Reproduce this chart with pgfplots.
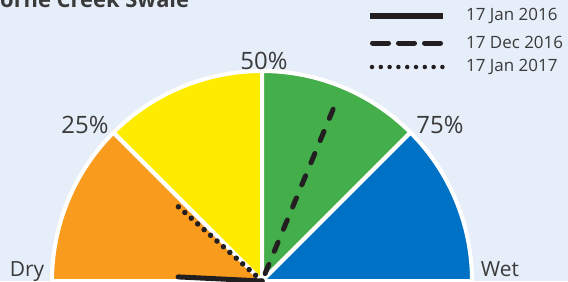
\documentclass[border=0pt]{standalone}
\usepackage{pgfplots}
\pgfplotsset{compat=1.18}
\usepackage{fontspec}
\setmainfont{Open Sans}
\definecolor{bgc}{HTML}{E6EEF9}
\definecolor{dryc}{HTML}{F99B1C}
\definecolor{yelc}{HTML}{FDEB00}
\definecolor{grnc}{HTML}{43AE4A}
\definecolor{bluc}{HTML}{0072C6}
\definecolor{ndl}{HTML}{231F20}
\definecolor{txt}{HTML}{3A3A3A}
\begin{document}
\begin{tikzpicture}
\begin{axis}[x=1bp, y=1bp, xmin=-262, xmax=306, ymin=0, ymax=281,
  hide axis, clip=false]
\coordinate (ll) at (axis cs:-262,0);
\coordinate (ur) at (axis cs:306,281);
\fill[bgc] (axis cs:-262,0) rectangle (axis cs:306,281);
% wedges 0-25-50-75-100 %
\filldraw[fill=dryc, draw=white, line width=4bp, line join=round] (axis cs:0,0) -- (axis cs:-210,0) arc[start angle=180, end angle=135, radius=210] -- cycle;
\filldraw[fill=yelc, draw=white, line width=4bp, line join=round] (axis cs:0,0) -- (axis cs:-148.49,148.49) arc[start angle=135, end angle=90, radius=210] -- cycle;
\filldraw[fill=grnc, draw=white, line width=4bp, line join=round] (axis cs:0,0) -- (axis cs:0,210) arc[start angle=90, end angle=45, radius=210] -- cycle;
\filldraw[fill=bluc, draw=white, line width=4bp, line join=round] (axis cs:0,0) -- (axis cs:148.49,148.49) arc[start angle=45, end angle=0, radius=210] -- cycle;
% needles (angle in degrees, length)
\addplot[ndl, line width=5bp, line cap=round, data cs=polar] coordinates {(0,0) (177.2,84)};
\addplot[ndl, line width=5.5bp, line cap=round, dash pattern=on 0bp off 8.6bp, data cs=polar] coordinates {(0,0) (138.4,118)};
\addplot[ndl, line width=5bp, line cap=round, dash pattern=on 10bp off 14bp, dash phase=16bp, data cs=polar] coordinates {(0,0) (67.5,188)};
% labels
\node[txt, font=\fontsize{24}{26}\selectfont] at (axis cs:2,220) {50\%};
\node[txt, font=\fontsize{24}{26}\selectfont] at (axis cs:-177,156) {25\%};
\node[txt, font=\fontsize{24}{26}\selectfont] at (axis cs:178,156) {75\%};
\node[txt, font=\fontsize{21}{23}\selectfont, anchor=base] at (axis cs:-235,5) {Dry};
\node[txt, font=\fontsize{21}{23}\selectfont, anchor=base] at (axis cs:238,5) {Wet};
% title
\node[txt, font=\fontsize{22}{24}\selectfont\bfseries, anchor=base west, inner sep=0pt] at (axis cs:-262,274) {orne Creek Swale};
% legend
\draw[ndl, line width=5bp] (axis cs:108,265) -- (axis cs:181,265);
\draw[ndl, line width=5bp, line cap=round, dash pattern=on 16bp off 10bp] (axis cs:110.5,238) -- (axis cs:181,238);
\draw[ndl, line width=4.5bp, line cap=round, dash pattern=on 0bp off 8.8bp] (axis cs:110,214) -- (axis cs:181,214);
\node[txt, font=\fontsize{17}{19}\selectfont, anchor=west, inner sep=0pt] at (axis cs:204,265) {17 Jan 2016};
\node[txt, font=\fontsize{17}{19}\selectfont, anchor=west, inner sep=0pt] at (axis cs:204,239) {17 Dec 2016};
\node[txt, font=\fontsize{17}{19}\selectfont, anchor=west, inner sep=0pt] at (axis cs:204,214) {17 Jan 2017};
\end{axis}
\pgfresetboundingbox
\useasboundingbox (ll) rectangle (ur);
\end{tikzpicture}
\end{document}
